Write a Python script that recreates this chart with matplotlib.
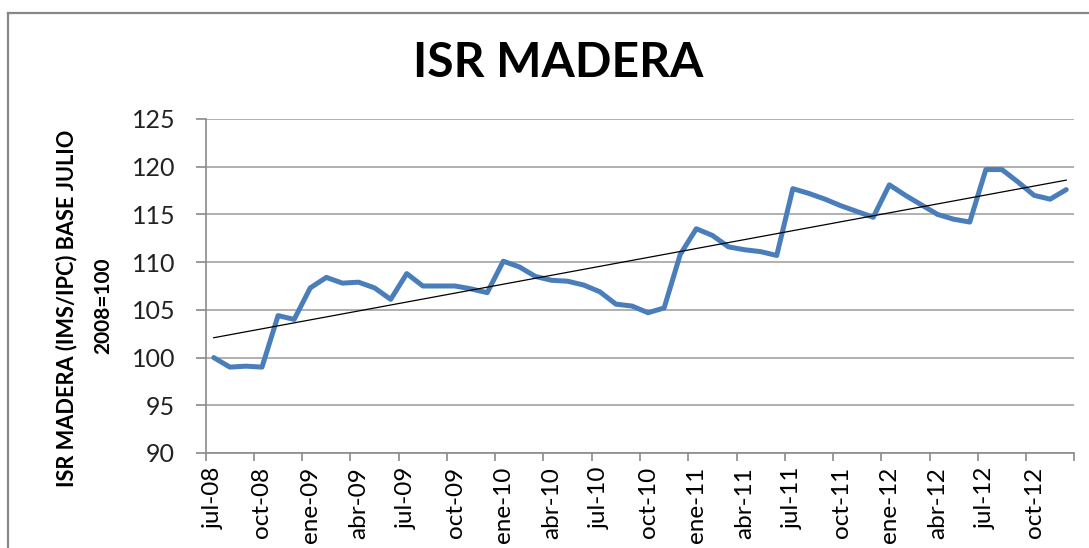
import matplotlib
matplotlib.use('Agg')
import matplotlib.pyplot as plt
from matplotlib.lines import Line2D
import numpy as np

# ---------------- data ----------------
tick_labels = ["jul-08", "oct-08", "ene-09", "abr-09", "jul-09", "oct-09",
               "ene-10", "abr-10", "jul-10", "oct-10", "ene-11", "abr-11",
               "jul-11", "oct-11", "ene-12", "abr-12", "jul-12", "oct-12"]

isr_madera = [100.0, 99.0, 99.1, 99.0, 104.4, 104.0,
              107.3, 108.4, 107.8, 107.9, 107.3, 106.1,
              108.8, 107.5, 107.5, 107.5, 107.2, 106.8,
              110.1, 109.5, 108.5, 108.1, 108.0, 107.6,
              106.9, 105.6, 105.4, 104.7, 105.2, 110.8,
              113.5, 112.8, 111.6, 111.3, 111.1, 110.7,
              117.7, 117.2, 116.6, 115.9, 115.3, 114.7,
              118.1, 117.0, 116.0, 115.0, 114.5, 114.2,
              119.7, 119.7, 118.4, 117.0, 116.6, 117.6]

title = "ISR MADERA"
ylabel_1 = "ISR MADERA (IMS/IPC) BASE JULIO"
ylabel_2 = "2008=100"

# ---------------- figure ----------------
W, H = 1089, 548
fig = plt.figure(figsize=(W / 100, H / 100), dpi=100)
fig.patch.set_facecolor('white')

def fx(px):
    return px / W

def fy(py):
    return 1 - py / H

TXT = ['Lato', 'DejaVu Sans']

left, right, top, bottom = 205.7, 1074.3, 119, 453
ax = fig.add_axes([fx(left), fy(bottom), fx(right - left), (bottom - top) / H])

n = len(isr_madera)
x = np.arange(n)
vals = np.array(isr_madera)

ax.plot(x, vals, color='#4a7ebb', lw=3.6, solid_joinstyle='round',
        solid_capstyle='round', zorder=3)
coef = np.polyfit(x, vals, 1)
ax.plot(x, np.polyval(coef, x), color='black', lw=0.9, zorder=4)

ax.set_xlim(-0.5, n - 0.5)
ax.set_ylim(90, 125)
ax.set_yticks(np.arange(90, 126, 5))
ax.yaxis.grid(True, color='#a3a3a3', lw=1.2)
ax.set_axisbelow(True)

ax.set_xticks(np.arange(-0.5, n, 3))
ax.set_xticklabels([])
ax.set_xticks(np.arange(0, n, 3), minor=True)
ax.set_xticklabels(tick_labels, minor=True, rotation=90,
                   fontsize=17.5, family=TXT, color='#000000')
ax.tick_params(axis='x', which='major', length=6, width=1.2, color='#8a8a8a',
               direction='out')
ax.tick_params(axis='x', which='minor', length=0, pad=10)
ax.tick_params(axis='y', length=7, width=1.2, color='#8a8a8a', pad=15,
               labelsize=18)
for lab in ax.get_yticklabels():
    lab.set_family(TXT)
    lab.set_color('#222222')

for s in ['top', 'right']:
    ax.spines[s].set_visible(False)
for s in ['left', 'bottom']:
    ax.spines[s].set_color('#8a8a8a')
    ax.spines[s].set_linewidth(1.2)

# outer chart border (left and top visible)
fig.add_artist(Line2D([fx(7.5), fx(7.5)], [0, fy(13)], transform=fig.transFigure,
                      color='#888888', lw=1.6))
fig.add_artist(Line2D([fx(7.5), 1], [fy(13), fy(13)], transform=fig.transFigure,
                      color='#888888', lw=1.6))

# texts
t_title = fig.text(fx(558), fy(77), title, ha='center', va='baseline',
                   fontsize=30, fontweight='bold', family=TXT)
t_y1 = fig.text(fx(67), fy(308), ylabel_1, ha='center', va='center', rotation=90,
                fontsize=14, fontweight='bold', family=TXT)
t_y2 = fig.text(fx(103), fy(306), ylabel_2, ha='center', va='center', rotation=90,
                fontsize=15, fontweight='bold', family=TXT)

renderer = fig.canvas.get_renderer()

def fit(t, target, use_height=False):
    bb = t.get_window_extent(renderer)
    cur = bb.height if use_height else bb.width
    t.set_fontsize(t.get_fontsize() * target / cur)

fit(t_title, 290)
fit(t_y1, 360, use_height=True)

fig.savefig('out.png', dpi=100, facecolor='white')
